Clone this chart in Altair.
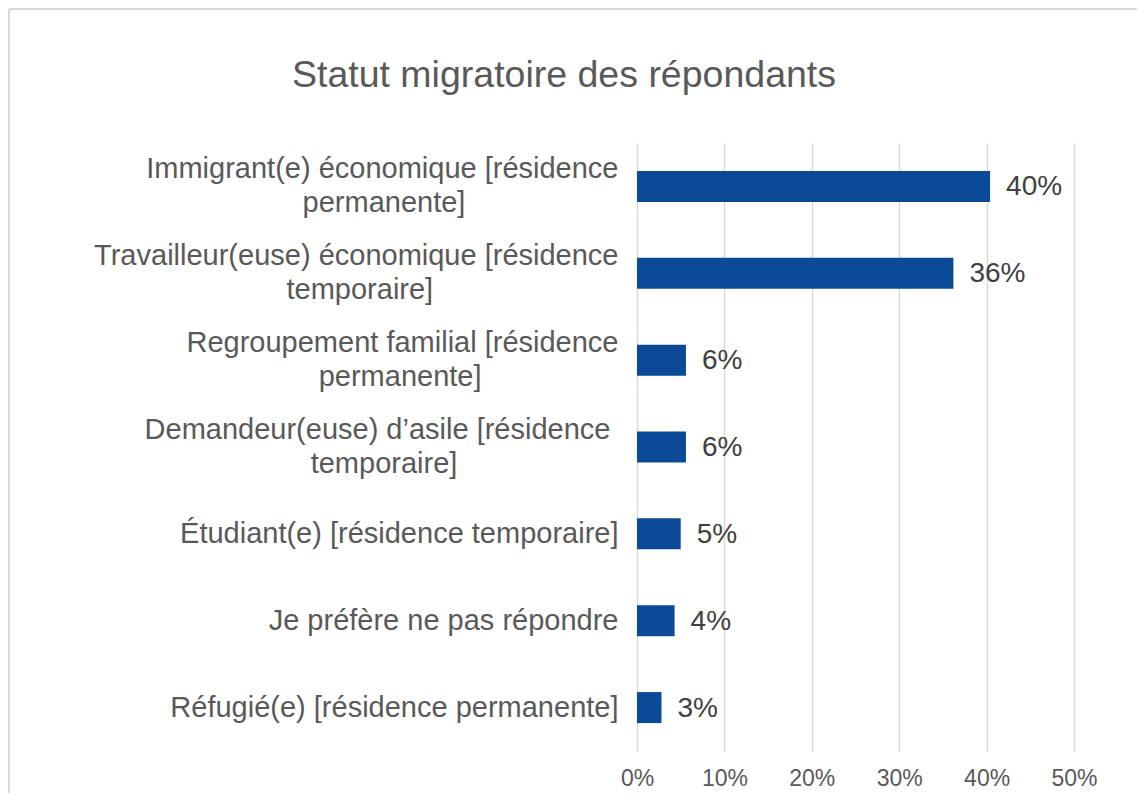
import altair as alt
import pandas as pd

# ---------------- data ----------------
title_text = "Statut migratoire des répondants"
categories = [
    "Immigrant(e) économique [résidence\npermanente]",
    "Travailleur(euse) économique [résidence\ntemporaire]",
    "Regroupement familial [résidence\npermanente]",
    "Demandeur(euse) d’asile [résidence\u00a0\ntemporaire]",
    "Étudiant(e) [résidence temporaire]",
    "Je préfère ne pas répondre",
    "Réfugié(e) [résidence permanente]",
]
values = [0.404, 0.362, 0.056, 0.056, 0.050, 0.043, 0.028]
x_ticks = [0, 0.1, 0.2, 0.3, 0.4, 0.5]

# ---------------- helpers: centre the 2nd line under the 1st (Excel style) ----------------
ARIAL = {
    " ": 278, "\u00a0": 278, "(": 333, ")": 333, "[": 278, "]": 278, "’": 222, "'": 191,
    "I": 278, "T": 611, "R": 722, "D": 722, "É": 667, "J": 500, "E": 667,
    "a": 556, "b": 556, "c": 500, "d": 556, "e": 556, "f": 278, "g": 556, "h": 556,
    "i": 222, "j": 222, "k": 500, "l": 222, "m": 833, "n": 556, "o": 556, "p": 556,
    "q": 556, "r": 333, "s": 500, "t": 278, "u": 556, "v": 500, "w": 722, "x": 500,
    "y": 500, "z": 500, "é": 556, "è": 556,
}
ZWSP = "\u200b"  # keeps Vega's trim() from removing the padding spaces


def text_width(s):
    return sum(ARIAL.get(ch, 556) for ch in s)


def center_lines(label):
    lines = label.split("\n")
    w0 = text_width(lines[0])
    out = [lines[0] + (ZWSP if lines[0].endswith("\u00a0") else "")]
    for ln in lines[1:]:
        n = max(0, round((w0 - text_width(ln)) / (2 * 278)))
        out.append(ln + "\u00a0" * n + (ZWSP if n else ""))
    return "\n".join(out)


labels = [center_lines(c) for c in categories]
df = pd.DataFrame({"statut": labels, "part": values})

FONT = "Liberation Sans"
TEXT_GREY = "#595959"
BAR_BLUE = "#0A4A96"
PLOT_W, PLOT_H = 437, 608
LINE_H = 34

y_enc = alt.Y(
    "statut:N",
    sort=labels,
    title=None,
    scale=alt.Scale(paddingInner=0.643, paddingOuter=0.3215),
    axis=alt.Axis(
        labelExpr="split(datum.label, '\\n')",
        labelFontSize=29,
        labelFont=FONT,
        labelColor=TEXT_GREY,
        labelLineHeight=LINE_H,
        labelPadding=19,
        labelLimit=800,
        labelAlign="right",
        labelBaseline="middle",
        labelOffset={
            "condition": {"test": "indexof(datum.value, '\\n') >= 0", "value": -LINE_H / 2},
            "value": 0,
        },
        domain=False,
        ticks=False,
        grid=False,
    ),
)

x_enc = alt.X(
    "part:Q",
    title=None,
    scale=alt.Scale(domain=[0, 0.5], nice=False, zero=True),
    axis=alt.Axis(
        values=x_ticks,
        format=".0%",
        labelFontSize=23,
        labelFont=FONT,
        labelColor=TEXT_GREY,
        labelPadding=16,
        labelFlush=False,
        domain=False,
        ticks=False,
        grid=True,
        gridColor="#d9d9d9",
        gridWidth=1.5,
    ),
)

bars = alt.Chart(df).mark_bar(color=BAR_BLUE).encode(x=x_enc, y=y_enc)

bar_labels = alt.Chart(df).mark_text(
    align="left", baseline="middle", dx=16, dy=1,
    fontSize=28, font=FONT, color="#404040",
).encode(
    x="part:Q",
    y=alt.Y("statut:N", sort=labels),
    text=alt.Text("part:Q", format=".0%"),
)

frame_src = alt.Data(values=[{}])
top_rule = alt.Chart(frame_src).mark_rule(color="#d9d9d9", strokeWidth=2).encode(
    x=alt.value(-628), x2=alt.value(500), y=alt.value(-134)
)
left_rule = alt.Chart(frame_src).mark_rule(color="#d9d9d9", strokeWidth=2).encode(
    x=alt.value(-628), y=alt.value(-134), y2=alt.value(650)
)

title_mark = alt.Chart(alt.Data(values=[{"t": title_text}])).mark_text(
    align="center", baseline="alphabetic", fontSize=37.5, font=FONT, color=TEXT_GREY,
).encode(
    x=alt.value(-73), y=alt.value(-56), text="t:N"
)

chart = (
    alt.layer(top_rule, left_rule, bars, bar_labels, title_mark)
    .properties(width=PLOT_W, height=PLOT_H, padding=0, background="white")
    .configure_view(stroke=None)
)

chart.save("out.html", embed_options={"renderer": "svg", "actions": False})
